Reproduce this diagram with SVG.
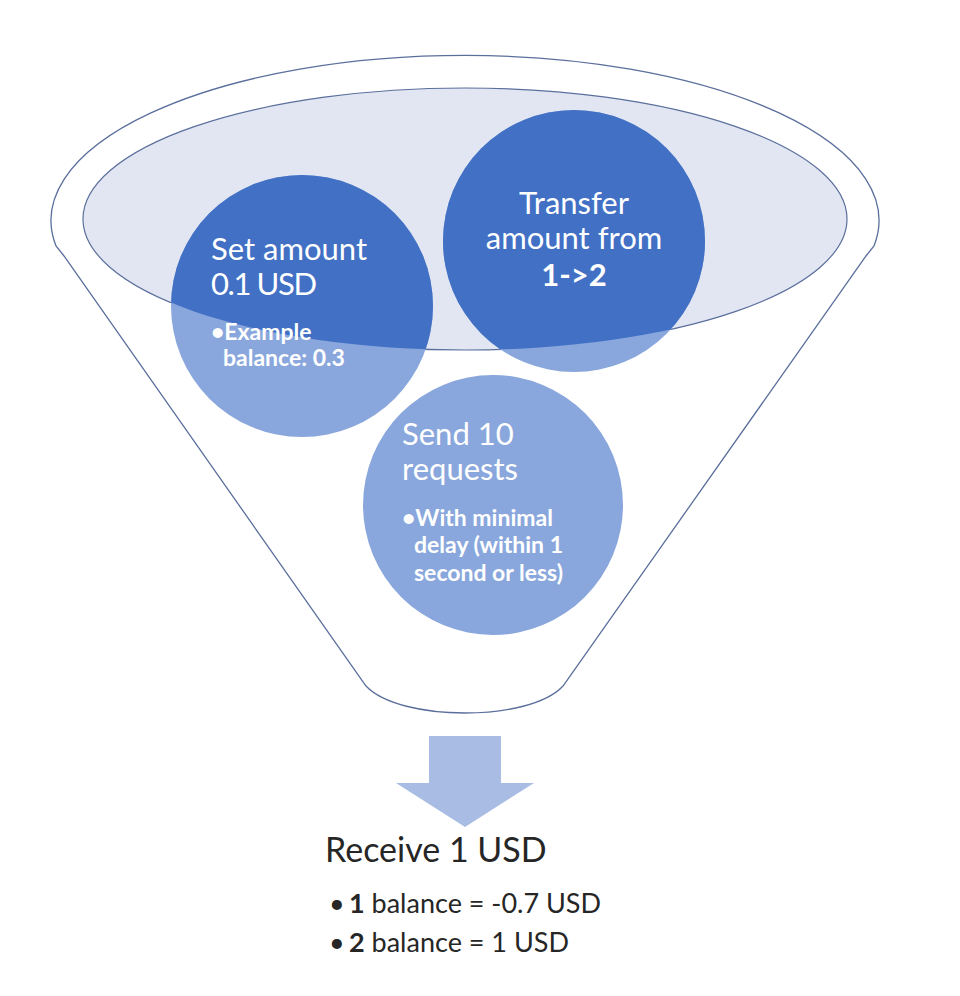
<svg xmlns="http://www.w3.org/2000/svg" width="960" height="996" viewBox="0 0 960 996">
<defs>
<style>
.outline{fill:none;stroke:#5b6f9c;stroke-width:1.3}
.lid{fill:#e2e6f3;stroke:#5b6f9c;stroke-width:1.2}
.light{fill:#89a7dc}
.dark{fill:#4170c4}
.h{font-family:Lato,"Liberation Sans",sans-serif;font-size:31px;fill:#ffffff}
.hb{font-weight:bold}
.b{font-family:Lato,"Liberation Sans",sans-serif;font-size:23px;font-weight:bold;fill:#ffffff}
.r{font-family:Lato,"Liberation Sans",sans-serif;fill:#262626}
.arrow{fill:#a9bde4}
</style>
<clipPath id="lidClip"><ellipse cx="465" cy="219" rx="382" ry="131"/></clipPath>
</defs>
<rect width="960" height="996" fill="#ffffff"/>
<g id="funnel">
<path class="outline" d="M 56 246 A 414 165 0 1 1 874 246 L 866 256 L 563 686 C 530 722 400 722 366 686 L 64 256 Z"/>
<ellipse class="lid" cx="465" cy="219" rx="382" ry="131"/>
</g>
<g id="step-set-amount">
<circle class="light" cx="302" cy="306" r="131"/>
<circle class="dark" cx="302" cy="306" r="131" clip-path="url(#lidClip)"/>
<text class="h" x="211" y="260">Set amount</text>
<text class="h" x="211" y="295" textLength="106">0.1 USD</text>
<text class="b" x="211" y="340">•Example</text>
<text class="b" x="223" y="366">balance: 0.3</text>
</g>
<g id="step-transfer">
<circle class="light" cx="574" cy="241" r="131"/>
<circle class="dark" cx="574" cy="241" r="131" clip-path="url(#lidClip)"/>
<text class="h" x="574" y="214" text-anchor="middle">Transfer</text>
<text class="h" x="574" y="249" text-anchor="middle">amount from</text>
<text class="h hb" x="574" y="286" text-anchor="middle">1-&gt;2</text>
</g>
<g id="step-send">
<circle class="light" cx="493" cy="505" r="130"/>
<circle class="dark" cx="493" cy="505" r="130" clip-path="url(#lidClip)"/>
<text class="h" x="402" y="445">Send 10</text>
<text class="h" x="402" y="480">requests</text>
<text class="b" x="402" y="526">•With minimal</text>
<text class="b" x="414" y="553">delay (within 1</text>
<text class="b" x="414" y="581">second or less)</text>
</g>
<g id="connectors">
<path class="arrow" d="M 429 736 L 501 736 L 501 783 L 534 783 L 465 827 L 396 783 L 429 783 Z"/>
</g>
<g id="result">
<text class="r" x="325" y="862" font-size="34">Receive 1 USD</text>
<text class="r" x="329" y="913" font-size="27">•</text>
<text class="r" x="349" y="913" font-size="27"><tspan font-weight="bold">1</tspan> balance = -0.7 USD</text>
<text class="r" x="329" y="952" font-size="27">•</text>
<text class="r" x="349" y="952" font-size="27"><tspan font-weight="bold">2</tspan> balance = 1 USD</text>
</g>
</svg>
